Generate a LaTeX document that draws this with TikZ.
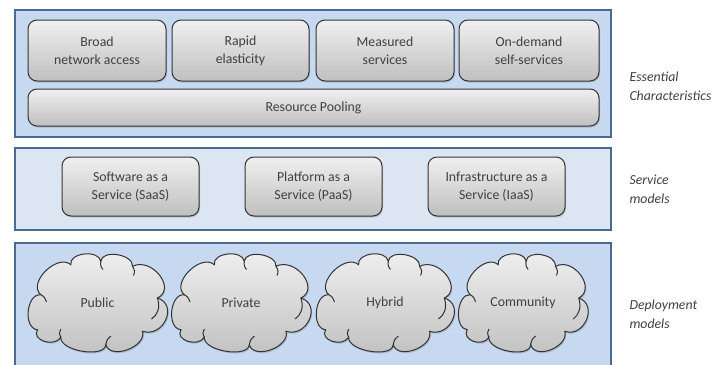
\documentclass[tikz,border=0pt]{standalone}
\usepackage{fontspec}
\setmainfont{Carlito}
\usetikzlibrary{shadows}
\definecolor{panelfill}{HTML}{C6D9F1}
\definecolor{panelfilltwo}{HTML}{DCE6F2}
\definecolor{panelline}{HTML}{4A6A8F}
\definecolor{boxline}{HTML}{333333}
\definecolor{txt}{HTML}{404040}
\newcommand{\cloudoutline}{%
  (-56.7,-8.3) .. controls (-71.3,-9.5) and (-74.6,25.5) .. (-60,26.7)
  .. controls (-66.6,37.1) and (-43.3,44.7) .. (-36.7,34.3)
  .. controls (-37.8,48) and (7.2,55.4) .. (8.3,41.7)
  .. controls (12.8,57.3) and (49.5,43.9) .. (45,28.3)
  .. controls (66.1,35) and (81.1,1.7) .. (60,-5)
  .. controls (79.3,-14.5) and (54.3,-46.2) .. (35,-36.7)
  .. controls (36.1,-48.8) and (4.4,-53.8) .. (3.3,-41.7)
  .. controls (1.2,-53.7) and (-28.8,-50.3) .. (-26.7,-38.3)
  .. controls (-40.4,-49.9) and (-70.4,-19.9) .. (-56.7,-8.3) -- cycle}
\newcommand{\cloudcurls}{%
  (-56.7,-8.3) .. controls (-53,-6) .. (-51,-1)
  (-36.7,34.3) .. controls (-38.5,30) .. (-36.5,26)
  (8.3,41.7) .. controls (9.5,36.5) .. (13.5,33)
  (60,-5) .. controls (63,5) and (60,12) .. (54,16)
  (35,-36.7) .. controls (37.5,-32) .. (36,-27.5)
  (3.3,-41.7) .. controls (3,-37) .. (5.5,-33.5)}
\tikzset{
  panel/.style={draw=panelline, line width=1.8pt, fill=panelfill},
  boxfont/.style={font=\fontsize{13.8}{18}\selectfont, text=txt},
  box/.style={draw=boxline, line width=1pt, rounded corners=9pt,
    top color=white!94!black, bottom color=black!25,
    drop shadow={shadow xshift=1pt, shadow yshift=-1.5pt, opacity=0.35},
    align=center, inner sep=0pt, minimum height=61pt, boxfont},
  cloudbody/.style={draw=boxline, line width=1pt,
    top color=white!94!black, bottom color=black!25,
    drop shadow={shadow xshift=1pt, shadow yshift=-1.5pt, opacity=0.35}},
  cloudcurl/.style={draw=boxline, line width=1pt},
  cloudtext/.style={boxfont, inner sep=0pt},
  sidelabel/.style={anchor=west, align=left, text=txt,
    font=\fontsize{13.8}{19}\selectfont\itshape}
}
\begin{document}
\begin{tikzpicture}[x=1pt,y=-1pt]
\useasboundingbox (0,0) rectangle (725,364);
% panels
\draw[panel] (15,10) rectangle (611,137);
\draw[panel, fill=panelfilltwo] (15,148) rectangle (611,230);
\draw[panel] (15,243) rectangle (611,366);
% essential characteristics
\node[box, minimum width=138pt] (broad) at (97,50.5) {Broad\\network access};
\node[box, minimum width=137pt] (rapid) at (240.5,50.5) {Rapid\\elasticity};
\node[box, minimum width=138pt] (measured) at (385,50.5) {Measured\\services};
\node[box, minimum width=140pt] (ondemand) at (529,50.5) {On-demand\\self-services};
\node[box, minimum width=571pt, minimum height=37pt] (pool) at (313.5,107.5) {Resource Pooling};
% service models
\node[box, minimum width=137pt, minimum height=59pt] (saas) at (130.5,186.5) {Software as a\\Service (SaaS)};
\node[box, minimum width=137pt, minimum height=59pt] (paas) at (313.5,186.5) {Platform as a\\Service (PaaS)};
\node[box, minimum width=137pt, minimum height=59pt] (iaas) at (496.5,186.5) {Infrastructure as a\\Service (IaaS)};
% deployment models (cloud outlines)
\foreach \cx/\sx in {97.5/1, 241/1, 385/0.99, 523/0.93}{
  \begin{scope}[shift={(\cx,303)}, xscale=\sx]
    \path[cloudbody] \cloudoutline;
    \path[cloudcurl] \cloudcurls;
  \end{scope}
}
\node[cloudtext] (public) at (97.5,303) {Public};
\node[cloudtext] (private) at (241,303) {Private};
\node[cloudtext] (hybrid) at (385,303) {Hybrid};
\node[cloudtext] (community) at (523,303) {Community};
% side labels
\node[sidelabel] (ess) at (626,86) {Essential\\Characteristics};
\node[sidelabel] (svc) at (626,189) {Service\\models};
\node[sidelabel] (dep) at (626,314) {Deployment\\models};
\end{tikzpicture}
\end{document}
